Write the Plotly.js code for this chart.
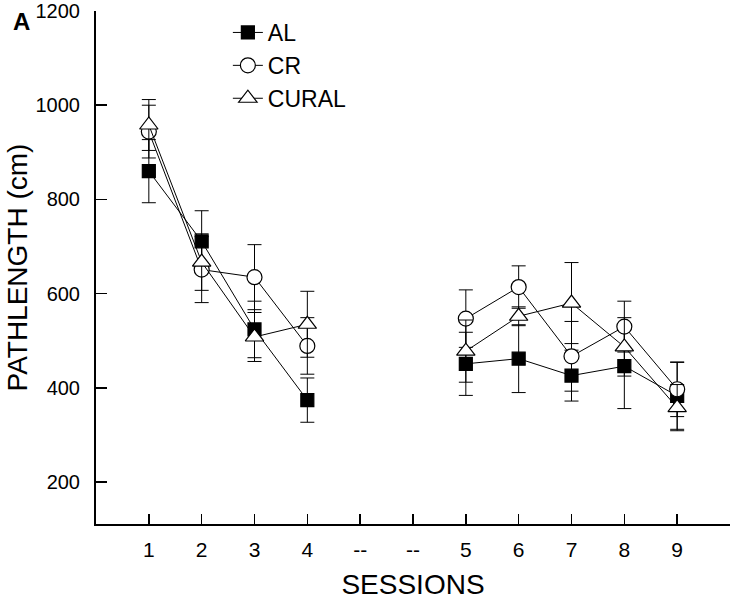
<!DOCTYPE html>
<html>
<head>
<meta charset="utf-8">
<script src="https://cdn.plot.ly/plotly-3.0.1.min.js"></script>
<style>html,body{margin:0;padding:0;background:#fff;}#chart{width:733px;height:602px;}</style>
</head>
<body>
<div id="chart"></div>
<script>
const sessions = ['1','2','3','4','--','--','5','6','7','8','9'];
const AL        = [860, 711, 524, 374, null, null, 451, 462, 426, 446, 383];
const AL_err    = [67,  65,  60,  47,  null, null, 67,  72,  54,  90,  71];
const CR        = [944, 651, 635, 489, null, null, 547, 614, 467, 530, 397];
const CR_err    = [56,  70,  69,  60,  null, null, 61,  45,  74,  54,  58];
const CURAL     = [958, 667, 508, 535, null, null, 478, 552, 580, 487, 358];
const CURAL_err = [54,  60,  52,  70,  null, null, 66,  20,  86,  62,  49];
const yTicks = [200, 400, 600, 800, 1000, 1200];

const xPos = sessions.map((s, i) => i + 1);
const FONT = 'Liberation Sans, Arial, Helvetica, sans-serif';

function series(name, y, err, symbol, size, fill) {
  return {
    type: 'scatter', mode: 'lines+markers', name: name,
    x: xPos, y: y, connectgaps: false, legendgroup: name,
    line: {color: 'black', width: 1},
    marker: {symbol: symbol, size: size, color: fill, line: {color: 'black', width: 1.2}},
    error_y: {type: 'data', array: err, visible: true, color: 'black', thickness: 1, width: 7}
  };
}

const data = [
  series('AL', AL, AL_err, 'square', 13, 'black'),
  series('CR', CR, CR_err, 'circle', 15, 'white'),
  series('CURAL', CURAL, CURAL_err, 'triangle-up', 16, 'white')
];

const layout = {
  width: 733, height: 602,
  margin: {l: 96, r: 3, t: 11, b: 78},
  paper_bgcolor: 'white', plot_bgcolor: 'white',
  font: {family: FONT, color: 'black'},
  showlegend: true,
  legend: {x: 0.208, y: 1.0, xanchor: 'left', yanchor: 'top', font: {size: 23, family: FONT},
           bgcolor: 'rgba(0,0,0,0)', tracegroupgap: 0},
  xaxis: {
    range: [0, sessions.length + 1],
    tickmode: 'array',
    tickvals: xPos.concat([sessions.length + 1]),
    ticktext: sessions.concat(['']),
    ticks: 'inside', ticklen: 10, tickwidth: 1.5, tickcolor: 'black',
    showline: true, linewidth: 2, linecolor: 'black',
    showgrid: false, zeroline: false,
    tickfont: {size: 21, family: FONT},
    ticklabelstandoff: 6,
    title: {text: 'SESSIONS', font: {size: 28, family: FONT}, standoff: 14}
  },
  yaxis: {
    range: [111, 1200],
    tickmode: 'array', tickvals: yTicks,
    ticks: 'inside', ticklen: 11, tickwidth: 1.5, tickcolor: 'black',
    showline: true, linewidth: 2, linecolor: 'black',
    showgrid: false, zeroline: false,
    tickfont: {size: 20, family: FONT},
    ticklabelstandoff: 10,
    title: {text: 'PATHLENGTH (cm)', font: {size: 28, family: FONT}, standoff: 0}
  },
  annotations: [{
    text: '<b>A</b>', xref: 'paper', yref: 'paper', x: -0.117, y: 0.98,
    xanchor: 'center', yanchor: 'middle', showarrow: false,
    font: {size: 24, family: FONT, color: 'black'}
  }]
};

Plotly.newPlot('chart', data, layout, {displayModeBar: false, staticPlot: true});
</script>
</body>
</html>
